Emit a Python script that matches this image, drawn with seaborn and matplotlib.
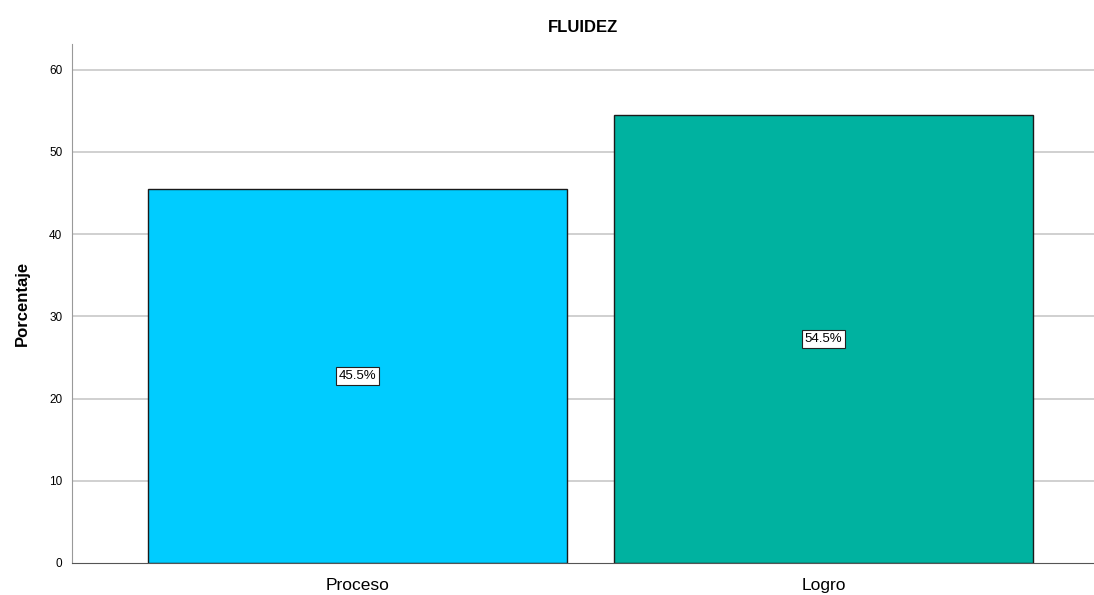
import matplotlib
matplotlib.use("Agg")
import matplotlib.pyplot as plt
import seaborn as sns
import pandas as pd

categories = ["Proceso", "Logro"]
percentages = [45.5, 54.5]
bar_colors = ["#00CCFF", "#00B2A0"]

df = pd.DataFrame({"cat": categories, "pct": percentages})

sns.set_style("white")
plt.rcParams["font.family"] = ["Liberation Sans", "DejaVu Sans"]
plt.rcParams["text.color"] = "black"
plt.rcParams["axes.labelcolor"] = "black"
plt.rcParams["xtick.color"] = "black"
plt.rcParams["ytick.color"] = "black"

fig = plt.figure(figsize=(10.94, 5.95), dpi=100)
ax = fig.add_axes([0.0658, 0.0538, 0.934, 0.872])

sns.barplot(data=df, x="cat", y="pct", hue="cat", palette=bar_colors,
            saturation=1, width=0.9, edgecolor="#1a1a1a", linewidth=1,
            legend=False, ax=ax)

ax.set_ylim(0, 63.1)
ax.set_xlim(-0.613, 1.58)
ax.set_yticks(range(0, 61, 10))
for t in range(10, 61, 10):
    ax.axhline(t, color="#c8c8c8", lw=1.2, zorder=0)

for i, v in enumerate(percentages):
    ax.text(i, v / 2, f"{v}%", ha="center", va="center", fontsize=9.5,
            color="black",
            bbox=dict(boxstyle="square,pad=0.2", fc="white", ec="#222222", lw=0.8))

ax.set_title("FLUIDEZ", fontsize=12, fontweight="bold", pad=9)
ax.set_ylabel("Porcentaje", fontsize=12, fontweight="bold", labelpad=14)
ax.set_xlabel("")
ax.tick_params(axis="y", labelsize=8.5, length=0, pad=7)
ax.tick_params(axis="x", labelsize=12.5, length=0, pad=11)
for s in ["top", "right"]:
    ax.spines[s].set_visible(False)
ax.spines["left"].set_color("#999999")
ax.spines["bottom"].set_color("#555555")

fig.savefig("out.png", dpi=100)
